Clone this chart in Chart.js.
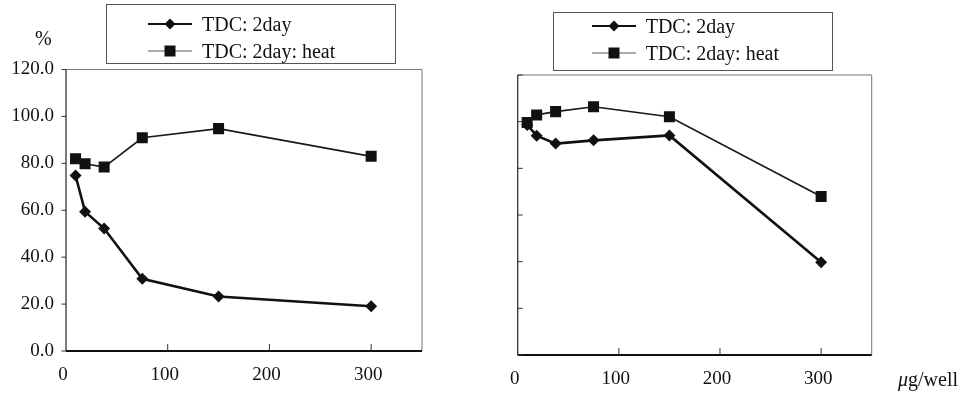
<!DOCTYPE html>
<html>
<head>
<meta charset="utf-8">
<script src="https://cdn.jsdelivr.net/npm/chart.js@4.4.1/dist/chart.umd.min.js"></script>
<style>
  body { margin: 0; background: #fff; width: 965px; height: 394px; position: relative; overflow: hidden;
         font-family: "Liberation Serif", "Times New Roman", serif; color: #111; }
  canvas { position: absolute; top: 0; }
  .box { position: absolute; border: 1px solid #555; box-sizing: border-box; }
  .txt { position: absolute; font-size: 20px; line-height: 20px; white-space: nowrap; }
  .sample { position: absolute; }
</style>
</head>
<body>
<canvas id="chartL" width="480" height="394" style="left:0"></canvas>
<canvas id="chartR" width="485" height="394" style="left:480px"></canvas>
<div class="txt" style="left:35px;top:28px">%</div>
<div class="txt" style="left:898px;top:369px"><i>μ</i>g/well</div>
<div id="legends"></div>
<script>
// doses (ug/well) shared by both panels
const doses = [9.375, 18.75, 37.5, 75, 150, 300];
const seriesNames = ["TDC: 2day", "TDC: 2day: heat"];

// left panel
const leftDay2 = [74.8, 59.4, 52.2, 30.8, 23.2, 19.1];
const leftHeat = [82.0, 79.8, 78.4, 90.9, 94.8, 83.0];

// right panel
const rightDay2 = [98.6, 94.0, 90.6, 92.0, 94.1, 39.7];
const rightHeat = [99.6, 102.9, 104.3, 106.4, 102.1, 67.9];

const xTicks = [0, 100, 200, 300];
const yTicks = [0, 20, 40, 60, 80, 100, 120];

const Figure = (function () {
  const family = '"Liberation Serif", "Times New Roman", serif';

  function line(ctx, x1, y1, x2, y2, color, width) {
    ctx.beginPath();
    ctx.strokeStyle = color;
    ctx.lineWidth = width;
    ctx.moveTo(x1, y1);
    ctx.lineTo(x2, y2);
    ctx.stroke();
  }

  // box round the plot area + short tick marks
  const framePlugin = {
    id: "frame",
    beforeDatasetsDraw(chart, args, opts) {
      const { ctx, chartArea: a, scales } = chart;
      ctx.save();
      line(ctx, a.left, a.top, a.right, a.top, "#777", 1);
      line(ctx, a.right, a.top, a.right, a.bottom, "#777", 1);
      line(ctx, a.left, a.top, a.left, a.bottom, "#333", 1.3);
      line(ctx, a.left, a.bottom, a.right, a.bottom, "#111", 1.8);
      scales.x.ticks.forEach(t => {
        if (t.value === 0) return;
        const px = scales.x.getPixelForValue(t.value);
        line(ctx, px, a.bottom, px, a.bottom - opts.xTick, "#333", 1);
      });
      scales.y.ticks.forEach(t => {
        const py = scales.y.getPixelForValue(t.value);
        line(ctx, a.left, py, a.left + opts.yTick, py, "#333", 1);
      });
      ctx.restore();
    }
  };

  function makeChart(id, day2, heat, cfg) {
    const tickFont = { family, size: 19 };
    return new Chart(document.getElementById(id), {
      type: "line",
      data: {
        datasets: [
          {
            label: seriesNames[0],
            data: doses.map((x, i) => ({ x, y: day2[i] })),
            borderColor: "#111",
            borderWidth: 2.6,
            pointStyle: "rectRot",
            pointRadius: 6,
            pointBorderWidth: 0,
            pointBackgroundColor: "#111",
            order: 1
          },
          {
            label: seriesNames[1],
            data: doses.map((x, i) => ({ x, y: heat[i] })),
            borderColor: "#1a1a1a",
            borderWidth: 1.7,
            pointStyle: "rect",
            pointRadius: 7.8,
            pointBorderWidth: 0,
            pointBackgroundColor: "#111",
            order: 0
          }
        ]
      },
      options: {
        responsive: false,
        animation: false,
        devicePixelRatio: 1,
        layout: { padding: cfg.padding },
        plugins: {
          legend: { display: false },
          tooltip: { enabled: false },
          frame: { xTick: 7, yTick: cfg.yTick }
        },
        scales: {
          x: {
            type: "linear",
            min: 0,
            max: 350,
            afterBuildTicks: s => { s.ticks = xTicks.map(v => ({ value: v })); },
            afterFit: s => { s.height = cfg.xHeight; },
            grid: { display: false, drawTicks: false },
            border: { display: false },
            ticks: { padding: 13, color: "#111", font: tickFont, labelOffset: -3, maxRotation: 0 }
          },
          y: {
            type: "linear",
            min: 0,
            max: 120,
            afterBuildTicks: s => { s.ticks = yTicks.map(v => ({ value: v })); },
            afterFit: s => { s.width = cfg.yWidth; },
            grid: { display: false, drawTicks: false },
            border: { display: false },
            ticks: {
              display: cfg.yLabels,
              padding: 12,
              color: "#111",
              font: tickFont,
              callback: v => v.toFixed(1)
            }
          }
        }
      },
      plugins: [framePlugin]
    });
  }

  function sampleSvg(i) {
    const thick = i === 0;
    const marker = thick
      ? '<polygon points="22,1.5 27.5,7 22,12.5 16.5,7" fill="#111"/>'
      : '<rect x="16.5" y="1.5" width="11" height="11" fill="#111"/>';
    return '<svg width="44" height="14"><line x1="0" y1="7" x2="44" y2="7" stroke="' +
      (thick ? "#111" : "#555") + '" stroke-width="' + (thick ? 2 : 1) + '"/>' + marker + "</svg>";
  }

  // legend: bordered box with line+marker samples and text
  function makeLegend(box, sampleLeft, textLeft, baselines) {
    const host = document.getElementById("legends");
    const b = document.createElement("div");
    b.className = "box";
    b.style.left = box[0] + "px";
    b.style.top = box[1] + "px";
    b.style.width = box[2] + "px";
    b.style.height = box[3] + "px";
    host.appendChild(b);
    seriesNames.forEach((name, i) => {
      const s = document.createElement("div");
      s.className = "sample";
      s.style.left = sampleLeft + "px";
      s.style.top = (baselines[i] - 6.6 - 7) + "px";
      s.innerHTML = sampleSvg(i);
      host.appendChild(s);
      const t = document.createElement("div");
      t.className = "txt";
      t.style.left = textLeft + "px";
      t.style.top = (baselines[i] - 16.75) + "px";
      t.textContent = name;
      host.appendChild(t);
    });
  }

  function init() {
    makeChart("chartL", leftDay2, leftHeat, {
      padding: { left: 0, top: 69.5, right: 58, bottom: 0 },
      yWidth: 66, xHeight: 43, yTick: -4.5, yLabels: true
    });
    makeChart("chartR", rightDay2, rightHeat, {
      padding: { left: 0, top: 75, right: 93.3, bottom: 0 },
      yWidth: 37.7, xHeight: 39, yTick: 5, yLabels: false
    });
    makeLegend([106, 4, 290, 60], 148, 202, [30.7, 57.5]);
    makeLegend([553, 12, 280, 59], 591.5, 645.7, [32.5, 59.5]);
  }

  return { init };
})();

window.addEventListener("DOMContentLoaded", Figure.init);
</script>
</body>
</html>
